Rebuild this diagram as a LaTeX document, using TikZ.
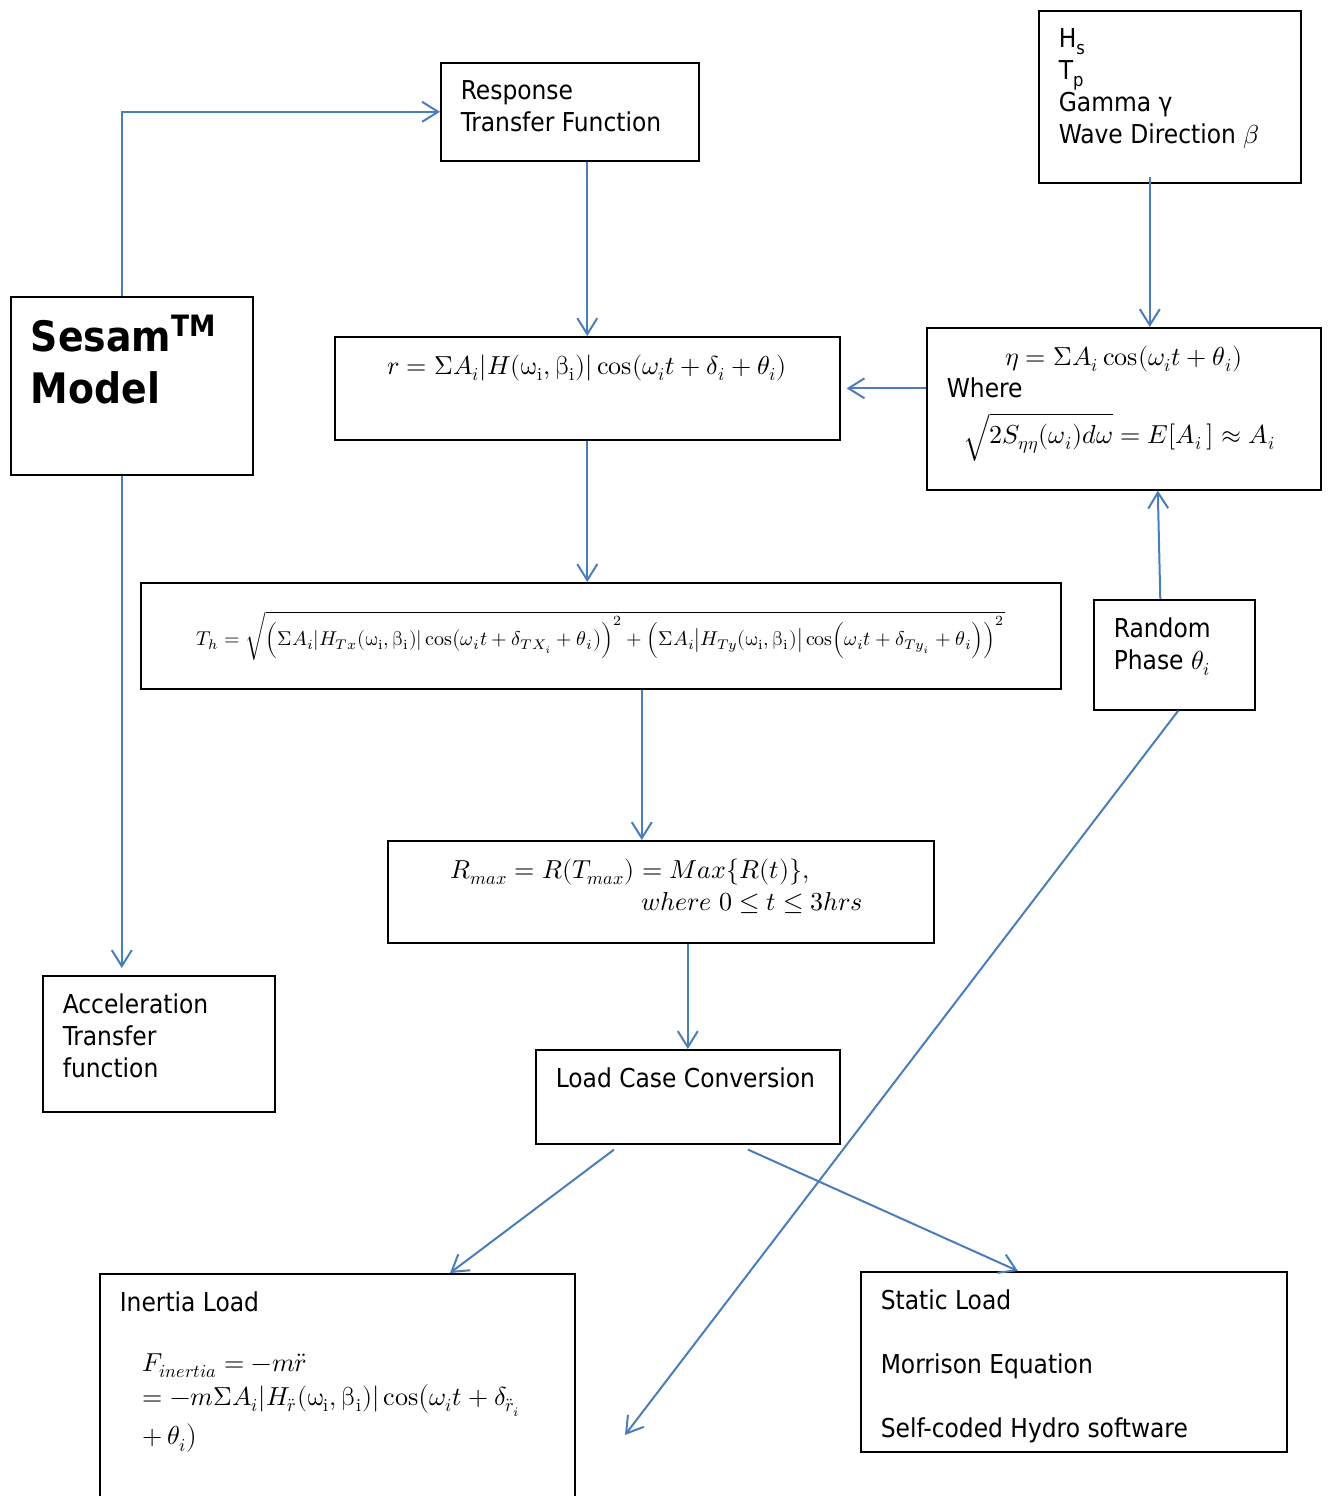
\documentclass[tikz,border=0pt]{standalone}
\usepackage{fontspec}
\usepackage[mathrm=sym]{unicode-math}
\setmainfont{DejaVu Sans Condensed}[BoldFont={DejaVu Sans Condensed Bold}]
\setmathfont{Latin Modern Math}
\usetikzlibrary{arrows.meta}
\definecolor{flowblue}{RGB}{74,126,187}
\tikzset{
  box/.style={draw, line width=0.8pt, anchor=north west, inner xsep=10pt, inner ysep=9pt, font=\fontsize{13}{16}\selectfont},
  flow/.style={draw=flowblue, line width=1pt, -{Straight Barb[length=8pt,width=10pt]}}
}
\newcommand{\txtbox}[3]{\parbox[c][#2][t]{#1}{#3}}
\newcommand{\wb}{\symup{\omega}_{\mathrm{i}},\symup{\beta}_{\mathrm{i}}}
\begin{document}
\begin{tikzpicture}[x=0.5pt,y=-0.5pt]
\useasboundingbox (0,0) rectangle (1328,1496);
\node[box] (rtf) at (440,62) {\txtbox{109pt}{31pt}{Response\\Transfer Function}};
\node[box] (wave) at (1038,10) {\txtbox{111pt}{68pt}{H\textsubscript{s}\\T\textsubscript{p}\\Gamma γ\\Wave Direction $\beta$}};
\node[box] (sesam) at (10,296) {\txtbox{101pt}{71pt}{\fontsize{21}{26}\selectfont\bfseries Sesam\textsuperscript{TM}\\Model}};
\node[box] (resp) at (334,336) {\txtbox{232.5pt}{33.5pt}{\centering $r=\Sigma A_i|H(\wb)|\cos(\omega_i t+\delta_i+\theta_i)$}};
\node[box] (eta) at (926,327) {\txtbox{177pt}{63pt}{\centering $\eta=\Sigma A_i\cos(\omega_i t+\theta_i)$\par
  \raggedright Where\par\vspace{7pt}
  \hspace*{8.5pt}$\sqrt{2S_{\eta\eta}(\omega_i)d\omega}=E[A_i\,]\approx A_i$}};
\node[box, minimum width=460pt, minimum height=53pt, inner sep=0pt, font=\fontsize{10}{12}\selectfont] (th) at (140,582)
  {$T_h=\sqrt{\Bigl(\Sigma A_i|H_{Tx}(\wb)|\cos\bigl(\omega_i t+\delta_{TX_i}+\theta_i\bigr)\Bigr)^2+\Bigl(\Sigma A_i\bigl|H_{Ty}(\wb)\bigr|\cos\Bigl(\omega_i t+\delta_{Ty_i}+\theta_i\Bigr)\Bigr)^2}$};
\node[box] (phase) at (1093,599) {\txtbox{60.5pt}{37pt}{Random\\Phase $\theta_i$}};
\node[box] (rmax) at (387,840) {\txtbox{253pt}{33pt}{\hspace*{21.5pt}$R_{max}=R(T_{max})=Max\{R(t)\},$\\
  \hspace*{117pt}$where\ 0\le t\le 3hrs$}};
\node[box] (accel) at (42,975) {\txtbox{96pt}{50pt}{Acceleration\\Transfer\\function}};
\node[box] (lcc) at (535,1049) {\txtbox{132pt}{29pt}{Load Case Conversion}};
\node[box] (inertia) at (99,1273) {\txtbox{217.5pt}{102pt}{Inertia Load\\[14pt]
  \hspace*{11.5pt}$F_{inertia}=-m\ddot{r}$\\[1pt]
  \hspace*{11.5pt}$=-m\Sigma A_i|H_{\ddot{r}}(\wb)|\cos\bigl(\omega_i t+\delta_{\ddot{r}_i}$\\[2pt]
  \hspace*{11.5pt}$+\,\theta_i\bigr)$}};
\node[box] (static) at (860,1271) {\txtbox{193pt}{72pt}{Static Load\\[16pt]Morrison Equation\\[16pt]Self-coded Hydro software}};
\coordinate (phaseend) at (625,1435);
\path ([xshift=-5pt]sesam.north) coordinate (sesamtop)
      ([xshift=-5pt]sesam.south) coordinate (sesambot)
      ([xshift=-10pt,yshift=3.5pt]wave.south) coordinate (waveout)
      ([xshift=20.5pt]th.south) coordinate (thout);
\draw[flow] (sesamtop) |- (rtf.west);
\draw[flow, shorten >=3.5pt] (sesambot) -- (sesambot |- accel.north);
\draw[flow] (rtf.south -| resp.north) -- (resp.north);
\draw[flow] (waveout) -- (waveout |- eta.north);
\draw[flow, shorten >=3pt] (eta.west |- resp.east) -- (resp.east);
\draw[flow] (resp.south) -- (resp.south |- th.north);
\draw[flow] ([xshift=-7pt]phase.north) -- ([xshift=17pt]eta.south);
\draw[flow] (thout) -- (thout |- rmax.north);
\draw[flow] (rmax.south -| lcc.north) -- (lcc.north);
\draw[flow] ([xshift=39.5pt,yshift=-2.5pt]lcc.south west) -- ([xshift=175.5pt]inertia.north west);
\draw[flow] ([xshift=106.5pt,yshift=-2.5pt]lcc.south west) -- ([xshift=79pt]static.north west);
\draw[flow] ([xshift=2pt]phase.south) -- (phaseend);
\end{tikzpicture}
\end{document}
